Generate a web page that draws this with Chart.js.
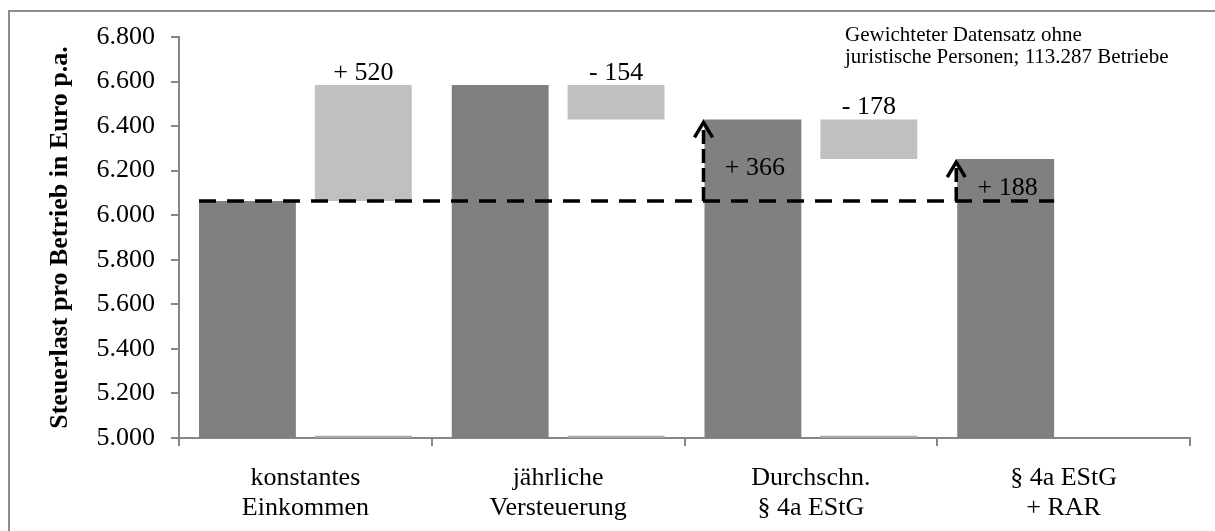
<!DOCTYPE html>
<html>
<head>
<meta charset="utf-8">
<script src="https://cdn.jsdelivr.net/npm/chart.js@4.4.1/dist/chart.umd.min.js"></script>
<style>
  html, body { margin: 0; padding: 0; background: #ffffff; }
  #wrap { width: 1215px; height: 531px; position: relative; }
</style>
</head>
<body>
<div id="wrap"><canvas id="c" width="1215" height="531"></canvas></div>
<script>
// ---- data ----
const categories = [['konstantes', 'Einkommen'], ['jährliche', 'Versteuerung'], ['Durchschn.', '§ 4a EStG'], ['§ 4a EStG', '+ RAR']];
const totals = [6064, 6584, 6430, 6252];
const changeFrom = [6064, 6584, 6430, null];
const changeTo = [6584, 6430, 6252, null];
const changeLabels = ['+ 520', '- 154', '- 178', null];
const baseSliver = [5010, 5010, 5010, null];
const referenceValue = 6064;
const gainLabels = [null, null, '+ 366', '+ 188'];
const yMin = 5000, yMax = 6800, yStep = 200;
const yTitle = 'Steuerlast pro Betrieb in Euro p.a.';
const noteLines = ['Gewichteter Datensatz ohne', 'juristische Personen; 113.287 Betriebe'];

// ---- helpers ----
const SERIF = '"Liberation Serif", "Times New Roman", serif';
const axisGray = '#868686';
const changeData = changeFrom.map((f, i) => f == null ? null : [Math.min(f, changeTo[i]), Math.max(f, changeTo[i])]);
const sliverData = baseSliver.map(v => v == null ? null : [yMin, v]);
const fmt = v => String(v).replace(/\B(?=(\d{3})+(?!\d))/g, '.');

const decorPlugin = {
  id: 'decor',
  beforeDraw(chart) {
    const ctx = chart.ctx;
    ctx.save();
    ctx.strokeStyle = '#8c8c8c';
    ctx.lineWidth = 2;
    ctx.beginPath();
    ctx.moveTo(9, 531);
    ctx.lineTo(9, 11);
    ctx.lineTo(1215, 11);
    ctx.stroke();
    ctx.restore();
  },
  afterDatasetsDraw(chart) {
    const ctx = chart.ctx;
    const y = chart.scales.y;
    const dark = chart.getDatasetMeta(0).data;
    const light = chart.getDatasetMeta(2).data;
    const yRef = y.getPixelForValue(referenceValue);
    ctx.save();
    // reference dashed line
    const first = dark[0], last = dark[dark.length - 1];
    ctx.strokeStyle = '#000';
    ctx.lineWidth = 3.5;
    ctx.setLineDash([17, 11]);
    ctx.beginPath();
    ctx.moveTo(first.x - first.width / 2, yRef);
    ctx.lineTo(last.x + last.width / 2, yRef);
    ctx.stroke();

    // arrows and gain labels
    gainLabels.forEach((lab, i) => {
      if (!lab) return;
      const el = dark[i];
      const ax = el.x - el.width / 2 - 1;
      const yTop = y.getPixelForValue(totals[i]) + 3;
      ctx.setLineDash([14, 5]);
      ctx.lineWidth = 3.5;
      ctx.beginPath();
      ctx.moveTo(ax, yRef);
      ctx.lineTo(ax, yTop + 2);
      ctx.stroke();
      ctx.setLineDash([]);
      ctx.beginPath();
      ctx.moveTo(ax - 9, yTop + 15);
      ctx.lineTo(ax, yTop);
      ctx.lineTo(ax + 9, yTop + 15);
      ctx.stroke();
      ctx.fillStyle = '#000';
      ctx.font = '26px ' + SERIF;
      ctx.textAlign = 'center';
      ctx.textBaseline = 'middle';
      ctx.fillText(lab, el.x + 2, (yRef + y.getPixelForValue(totals[i])) / 2 + 8);
    });

    // change labels
    ctx.setLineDash([]);
    ctx.fillStyle = '#000';
    ctx.font = '26px ' + SERIF;
    ctx.textAlign = 'center';
    ctx.textBaseline = 'alphabetic';
    changeLabels.forEach((lab, i) => {
      if (!lab) return;
      const el = light[i];
      const top = Math.min(el.y, el.base);
      ctx.fillText(lab, el.x, top - 5);
    });

    // note text
    ctx.font = '21px ' + SERIF;
    ctx.textAlign = 'left';
    ctx.textBaseline = 'middle';
    noteLines.forEach((t, k) => ctx.fillText(t, 845, 35 + k * 22));
    ctx.restore();
  }
};

new Chart(document.getElementById('c'), {
  type: 'bar',
  data: {
    labels: categories,
    datasets: [
      { data: totals, backgroundColor: '#808080', stack: 'total' },
      { data: sliverData, backgroundColor: '#a8a8a8', stack: 'change' },
      { data: changeData, backgroundColor: '#c0c0c0', stack: 'change' }
    ]
  },
  options: {
    responsive: false,
    animation: false,
    categoryPercentage: 0.917,
    barPercentage: 0.836,
    layout: { padding: { left: 43, right: 25, top: 37, bottom: 0 } },
    plugins: { legend: { display: false }, tooltip: { enabled: false } },
    scales: {
      x: {
        grid: { display: true, drawOnChartArea: false, drawTicks: true, tickLength: 8, offset: true, color: axisGray, lineWidth: 2 },
        border: { display: true, color: axisGray, width: 2 },
        ticks: { color: '#000', font: { family: SERIF, size: 26, lineHeight: 1.15 }, padding: 17, maxRotation: 0, autoSkip: false },
        afterFit(scale) { scale.height = 93; }
      },
      y: {
        stacked: false,
        min: yMin, max: yMax,
        grid: { display: true, drawOnChartArea: false, drawTicks: true, tickLength: 8, color: axisGray, lineWidth: 2 },
        border: { display: true, color: axisGray, width: 2 },
        ticks: { stepSize: yStep, color: '#000', font: { family: SERIF, size: 26 }, padding: 16, callback: v => fmt(v) },
        title: { display: true, text: yTitle, color: '#000', font: { family: SERIF, size: 26, weight: 'bold' }, padding: { top: 2, bottom: 2 } },
        afterFit(scale) { scale.width = 136; }
      }
    }
  },
  plugins: [decorPlugin]
});
</script>
</body>
</html>
